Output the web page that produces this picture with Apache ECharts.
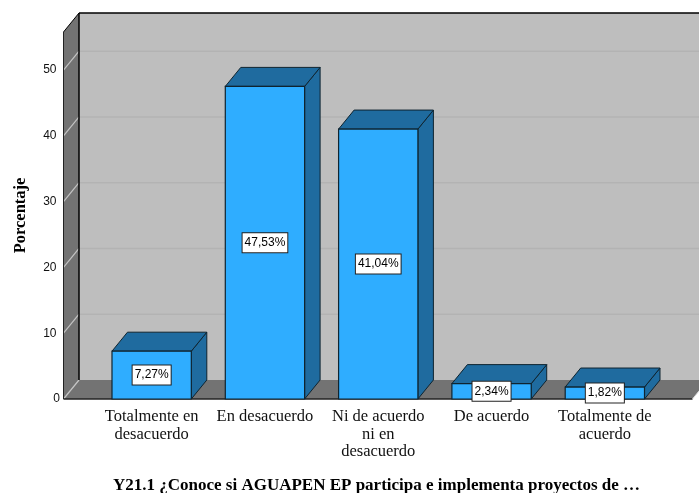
<!DOCTYPE html>
<html>
<head>
<meta charset="utf-8">
<script src="https://cdn.jsdelivr.net/npm/echarts@6/dist/echarts.min.js"></script>
<style>html,body{margin:0;padding:0;background:#fff}#c{width:699px;height:493px}</style>
</head>
<body>
<div id="c"></div>
<script>
const categories = ['Totalmente en\ndesacuerdo', 'En desacuerdo', 'Ni de acuerdo\nni en\ndesacuerdo', 'De acuerdo', 'Totalmente de\nacuerdo'];
const percentages = [7.27, 47.53, 41.04, 2.34, 1.82];
const yTicks = [0, 10, 20, 30, 40, 50];
const yMax = 55.8;
const titleText = 'Y21.1 ¿Conoce si AGUAPEN EP participa e implementa proyectos de …';
const yName = 'Porcentaje';

const DX = 15.5, DY = 19, LEFT_EXT = 31.5, RIGHT_EXT = 31;
const cFront = '#2FADFF', cDark = '#1F6B9F', cWall = '#BEBEBE', cFloor = '#737373', cEdge = '#0F2430';

function poly(points, fill, stroke, lw) {
  return { type: 'polygon', shape: { points }, style: { fill, stroke: stroke || null, lineWidth: lw || 1 } };
}
function line(x1, y1, x2, y2, stroke, lw) {
  return { type: 'line', shape: { x1, y1, x2, y2 }, style: { stroke, lineWidth: lw || 1 } };
}

function renderWalls(params, api) {
  const cs = params.coordSys;
  const L = cs.x - LEFT_EXT, R = cs.x + cs.width + RIGHT_EXT;
  const T = cs.y, B = cs.y + cs.height;
  const ch = [];
  ch.push(poly([[L + DX, T - DY], [R + DX, T - DY], [R + DX, B - DY], [L + DX, B - DY]], cWall));
  ch.push(poly([[L, T], [L + DX, T - DY], [L + DX, B - DY], [L, B]], cFloor));
  ch.push(poly([[L, B], [L + DX, B - DY], [R + DX, B - DY], [R, B]], cFloor));
  yTicks.forEach(t => {
    const y = api.coord([0, t])[1];
    if (t > 0) ch.push(line(L + DX, y - DY, R + DX, y - DY, '#B3B3B3', 1.5));
    ch.push(line(L, y, L + DX, y - DY, '#C4C4C4', 1.2));
  });
  ch.push(line(L + DX, T - DY, R + DX, T - DY, '#000', 1.5));
  ch.push(line(L + DX, T - DY, L + DX, B - DY, '#000', 1.5));
  ch.push(line(L, T, L + DX, T - DY, '#000', 1));
  ch.push(line(L, T, L, B, '#222', 1));
  ch.push(line(L, B, R, B, '#222', 1.5));
  ch.push(line(R, B, R + DX, B - DY, '#ddd', 1));
  return { type: 'group', children: ch };
}

function renderBar(params, api) {
  const c = api.value(0), v = api.value(1);
  const top = api.coord([c, v]), base = api.coord([c, 0]);
  const w = api.size([1, 0])[0] * 0.7;
  const x0 = top[0] - w / 2, x1 = top[0] + w / 2, yT = top[1], yB = base[1];
  const text = v.toFixed(2).replace('.', ',') + '%';
  return {
    type: 'group',
    children: [
      poly([[x1, yT], [x1 + DX, yT - DY], [x1 + DX, yB - DY], [x1, yB]], cDark, cEdge),
      poly([[x0, yT], [x0 + DX, yT - DY], [x1 + DX, yT - DY], [x1, yT]], cDark, cEdge),
      poly([[x0, yT], [x1, yT], [x1, yB], [x0, yB]], cFront, cEdge, 1.2),
      {
        type: 'text',
        x: top[0], y: (yT + yB) / 2,
        z2: 10,
        style: {
          text, align: 'center', verticalAlign: 'middle',
          font: '12px "Liberation Sans", Arial, sans-serif', fill: '#000',
          backgroundColor: '#fff', borderColor: '#222', borderWidth: 1,
          padding: [4, 2, 3, 2]
        }
      }
    ]
  };
}

const chart = echarts.init(document.getElementById('c'), null, { renderer: 'canvas' });
chart.setOption({
  animation: false,
  backgroundColor: '#fff',
  title: {
    text: titleText, left: 371.5, top: 472, textAlign: 'center',
    textStyle: { fontFamily: '"Liberation Serif", serif', fontWeight: 'bold', fontSize: 17, color: '#000' }
  },
  grid: { left: 95, top: 32, width: 566.5, height: 367 },
  xAxis: {
    type: 'category', data: categories,
    axisLine: { show: false }, axisTick: { show: false },
    axisLabel: {
      interval: 0, margin: 9, lineHeight: 17.5,
      fontFamily: '"Liberation Serif", serif', fontSize: 16.5, color: '#111'
    }
  },
  yAxis: {
    type: 'value', min: 0, max: yMax, interval: 10, offset: LEFT_EXT,
    name: yName, nameLocation: 'middle', nameGap: 34, nameRotate: 90,
    nameTextStyle: { fontFamily: '"Liberation Serif", serif', fontWeight: 'bold', fontSize: 16.5, color: '#000' },
    axisLine: { show: false }, axisTick: { show: false }, splitLine: { show: false },
    axisLabel: {
      margin: 7, alignMinLabel: 'center', alignMaxLabel: 'center', padding: [4, 0, 0, 0],
      formatter: v => (yTicks.includes(v) ? String(v) : ''),
      fontFamily: '"Liberation Sans", Arial, sans-serif', fontSize: 12, color: '#111'
    }
  },
  series: [
    { type: 'custom', z: 1, silent: true, clip: false, data: [[0, 0]], encode: { x: 0, y: 1 }, renderItem: renderWalls },
    { type: 'custom', z: 2, clip: false, data: percentages.map((v, i) => [i, v]), encode: { x: 0, y: 1 }, renderItem: renderBar }
  ]
});
</script>
</body>
</html>
